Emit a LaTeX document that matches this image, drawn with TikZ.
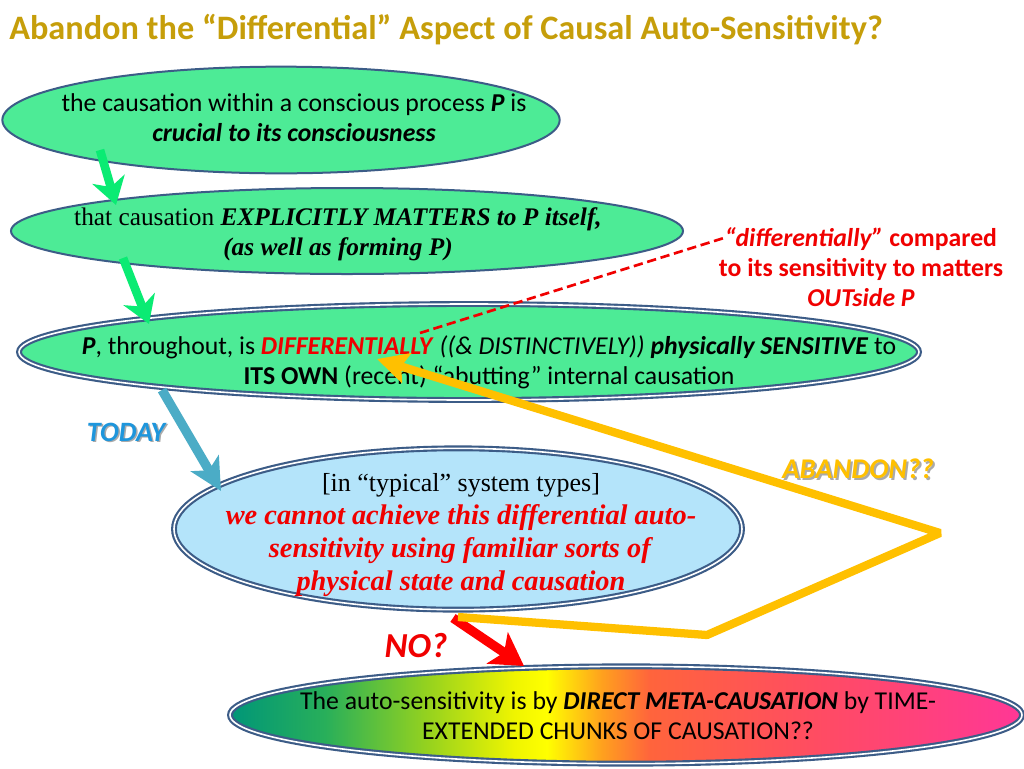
\documentclass[tikz,border=0pt]{standalone}
\usepackage{fontspec}
\setmainfont{Carlito}
\newfontfamily\tnr{Liberation Serif}
\usetikzlibrary{shapes.geometric,arrows.meta}
\definecolor{gfill}{RGB}{77,235,150}
\definecolor{bfill}{RGB}{180,228,250}
\definecolor{bord}{RGB}{60,92,135}
\definecolor{titlec}{RGB}{198,158,10}
\definecolor{garr}{RGB}{10,235,115}
\definecolor{barr}{RGB}{75,172,198}
\definecolor{yarr}{RGB}{255,192,0}
\definecolor{redc}{RGB}{240,0,0}
\definecolor{todayc}{RGB}{30,150,220}
\definecolor{shadowc}{RGB}{170,170,170}
\definecolor{rz}{RGB}{0,150,120}
\definecolor{ra}{RGB}{40,175,90}
\definecolor{rb}{RGB}{150,210,30}
\definecolor{rc}{RGB}{240,245,0}
\definecolor{rd}{RGB}{255,255,0}
\definecolor{re}{RGB}{255,160,30}
\definecolor{rf}{RGB}{255,100,60}
\definecolor{rg}{RGB}{255,75,100}
\definecolor{rh}{RGB}{255,55,150}
\pgfdeclarehorizontalshading{rainbowsh}{100bp}{color(0bp)=(rz); color(25bp)=(rz); color(31bp)=(ra); color(37.5bp)=(rb); color(43bp)=(rc); color(45bp)=(rd); color(48.5bp)=(re); color(51.5bp)=(rf); color(62.5bp)=(rg); color(75bp)=(rh); color(100bp)=(rh)}
\begin{document}
\begin{tikzpicture}[x=0.75pt,y=-0.75pt,
  ell/.style={ellipse, draw=bord, line width=1.5pt, inner sep=0pt},
  dbl/.style={ell, double=white, double distance=1.2pt, line width=1.6pt},
  cal/.style={font=\fontsize{19.3}{22.5}\selectfont, align=center, inner sep=0pt},
  tim/.style={font=\tnr\fontsize{19}{22.5}\selectfont, align=center, inner sep=0pt},
  garrow/.style={draw=garr, line width=6.5pt, -{Stealth[length=20pt, width=25pt, inset=6pt]}},
  barrow/.style={draw=barr, line width=7pt, -{Stealth[length=24pt, width=24pt, inset=6pt]}},
  rarrow/.style={draw=red, line width=7pt, -{Stealth[length=24pt, width=28pt, inset=6pt]}},
  yarrow/.style={draw=yarr, line width=6.2pt, line join=bevel, -{Stealth[length=23pt, width=23pt, inset=4pt]}},
  dashline/.style={draw=redc, line width=2pt, dash pattern=on 7pt off 3.5pt}
]
\useasboundingbox[fill=white] (0,0) rectangle (1024,768);

\node[anchor=west, text=titlec, inner sep=0pt, font=\bfseries\fontsize{25.7}{30}\selectfont] (title) at (9,30) {Abandon the “Differential” Aspect of Causal Auto-Sensitivity?};

% ellipses
\node[ell, fill=gfill, minimum width=418pt, minimum height=80pt] (e1) at (281,120) {};
\node[ell, fill=gfill, minimum width=504pt, minimum height=64.5pt] (e2) at (347,231) {};
\node[dbl, fill=gfill, minimum width=675pt, minimum height=72pt] (e3) at (469,352) {};
\node[dbl, fill=bfill, minimum width=426pt, minimum height=121pt] (e4) at (458,529) {};
\node[dbl, shading=rainbowsh, minimum width=594pt, minimum height=73pt] (e5) at (626,715) {};

% texts
\node[cal] (t1) at (294,118) {the causation within a conscious process \textbf{\textit{P}} is\\ \textbf{\textit{crucial to its consciousness}}};
\node[tim] (t2) at (338,234) {that causation \textbf{\textit{EXPLICITLY MATTERS to P itself,}}\\ \textbf{\textit{(as well as forming P)}}};
\node[cal] (t3) at (489,362) {\textbf{\textit{P}}, throughout, is \textcolor{redc}{\textbf{\textit{DIFFERENTIALLY}}} \textit{((\& DISTINCTIVELY))} \textbf{\textit{physically SENSITIVE}} to\\ \textbf{ITS OWN} (recent) “abutting” internal causation};
\node[tim, font=\tnr\fontsize{21.3}{24.75}\selectfont] (t4) at (461,535) {{\fontsize{19.5}{24.75}\selectfont [in “typical” system types]}\\ \textcolor{redc}{\textbf{\textit{we cannot achieve this differential auto-}}}\\ \textcolor{redc}{\textbf{\textit{sensitivity using familiar sorts of}}}\\ \textcolor{redc}{\textbf{\textit{physical state and causation}}}};
\node[cal] (t5) at (618,716) {The auto-sensitivity is by \textbf{\textit{DIRECT META-CAUSATION}} by TIME-\\ EXTENDED CHUNKS OF CAUSATION??};
\node[cal, text=redc, font=\bfseries\fontsize{19.3}{22.5}\selectfont] (note) at (861,267) {\textit{“differentially”} compared\\ to its sensitivity to matters\\ \textit{OUTside P}};

\node[text=shadowc, inner sep=0pt, font=\bfseries\itshape\fontsize{21}{24}\selectfont] (todaysh) at (127.5,433.5) {TODAY};
\node[text=todayc, inner sep=0pt, font=\bfseries\itshape\fontsize{21}{24}\selectfont] (today) at (126,432) {TODAY};
\node[text=shadowc, inner sep=0pt, font=\bfseries\itshape\fontsize{21.4}{24}\selectfont] (abandonsh) at (860,471) {ABANDON??};
\node[text=yarr, inner sep=0pt, font=\bfseries\itshape\fontsize{21.4}{24}\selectfont] (abandon) at (858,469) {ABANDON??};
\node[text=redc, inner sep=0pt, font=\bfseries\itshape\fontsize{26.3}{30}\selectfont] (no) at (416,646) {NO?};

% connector points
\coordinate (g1a) at (100,150);
\coordinate (g1b) at (116,205);
\coordinate (g2a) at (123,258);
\coordinate (g2b) at (149,324);
\coordinate (ba) at (162,390);
\coordinate (bb) at (221,491);
\coordinate (ra) at (453,618);
\coordinate (rb) at (524,666);
\coordinate (ya) at (458,617);
\coordinate (yb) at (707,635);
\coordinate (yc) at (940,533);
\coordinate (yd) at (377,359);
\coordinate (da) at (420,333);
\coordinate (db) at (727,237);

\draw[garrow] (g1a) -- (g1b);
\draw[garrow] (g2a) -- (g2b);
\draw[barrow] (ba) -- (bb);
\draw[rarrow] (ra) -- (rb);
\draw[yarrow] (ya) -- (yb) -- (yc) -- (yd);
\draw[dashline] (da) -- (db);
\end{tikzpicture}
\end{document}
